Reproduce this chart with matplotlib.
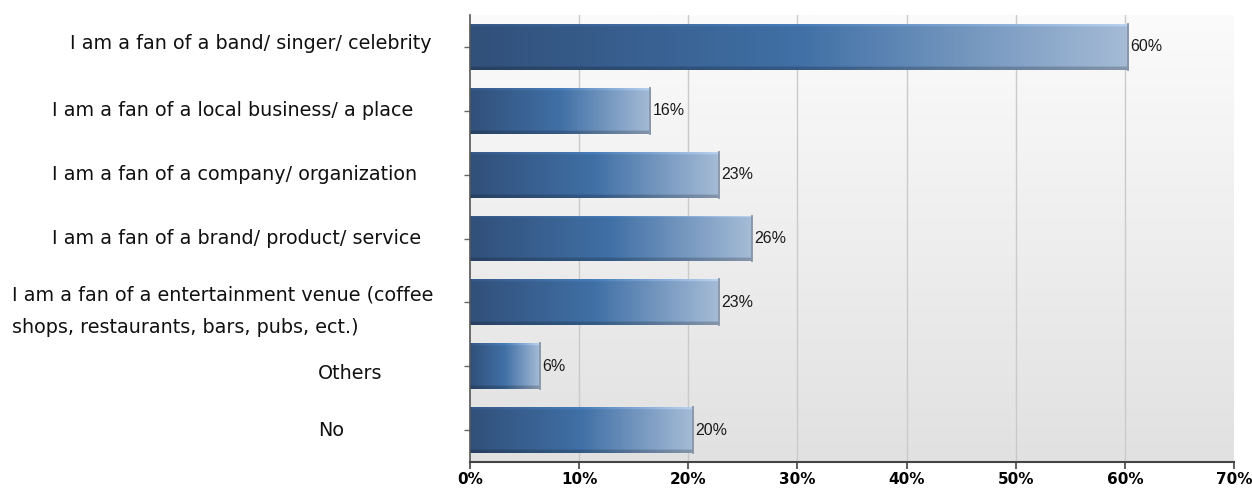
import numpy as np
import matplotlib.pyplot as plt
from matplotlib.colors import LinearSegmentedColormap
import matplotlib.transforms as mtransforms

# survey answers, top to bottom
answers = [
    "I am a fan of a band/ singer/ celebrity",
    "I am a fan of a local business/ a place",
    "I am a fan of a company/ organization",
    "I am a fan of a brand/ product/ service",
    "I am a fan of a entertainment venue (coffee\nshops, restaurants, bars, pubs, ect.)",
    "Others",
    "No",
]
shares = [60.3, 16.5, 22.8, 25.8, 22.8, 6.4, 20.4]
xticks = [0, 10, 20, 30, 40, 50, 60, 70]

# where each answer text starts (figure pixels) and a small vertical nudge
label_left = [70, 52, 52, 52, 12, 318, 318]
label_dy = [0.05, 0, 0, 0, -0.14, -0.12, 0]

W, H = 1252, 488
fig = plt.figure(figsize=(W / 100, H / 100), dpi=100)
ax = fig.add_axes([470 / W, 26 / H, 764 / W, 447 / H])

n = len(answers)
ypos = np.arange(n)[::-1]
bar_h = 0.72

ax.set_xlim(0, 70)
ax.set_ylim(-0.5, n - 0.5)

# grey backdrop fading towards the bottom
bg = LinearSegmentedColormap.from_list("bg", ["#e1e1e1", "#fbfbfb"])
ax.imshow(np.linspace(0, 1, 256).reshape(-1, 1), cmap=bg, aspect="auto",
          extent=(0, 1, 0, 1), transform=ax.transAxes, origin="lower", zorder=0)

for x in xticks[1:-1]:
    ax.axvline(x, color="#cacaca", lw=1, zorder=1)

# horizontal blue ramp, only a hint of vertical shading
stops = [(0.0, "#31507a"), (0.5, "#4070a6"), (1.0, "#a5bbd6")]
ramp = LinearSegmentedColormap.from_list("bar", stops)
hx = ramp(np.linspace(0, 1, 200))[:, :3]
vy = np.ones(40)
vy[:3] = 0.8
vy[-2:] = 1.12
img = np.clip(hx[None, :, :] * vy.reshape(-1, 1, 1), 0, 1)

for y, v in zip(ypos, shares):
    bars = ax.barh(y, v, height=bar_h, color="none", edgecolor="none", zorder=2)
    im = ax.imshow(img, aspect="auto", origin="lower", zorder=2,
                   extent=(0, v, y - bar_h / 2, y + bar_h / 2))
    im.set_clip_path(bars[0])
    ax.plot([v, v], [y - bar_h / 2, y + bar_h / 2], color="#8594a8", lw=1.3, zorder=3)
    ax.text(v + 0.2, y, f"{v:.0f}%", va="center", ha="left", fontsize=11.5,
            family="Liberation Sans", color="#1a1a1a", zorder=4)

ax.set_xticks(xticks)
ax.set_xticklabels([f"{x}%" for x in xticks], fontsize=11, fontweight="bold",
                   family=["Liberation Sans Narrow", "DejaVu Sans"])
ax.set_yticks(ypos)
ax.set_yticklabels([])
ax.tick_params(axis="y", length=4, color="#666666", width=1)
ax.tick_params(axis="x", length=5, color="#444444", width=1.2, pad=2)

for side in ["top", "right"]:
    ax.spines[side].set_visible(False)
ax.spines["left"].set_color("#555555")
ax.spines["left"].set_linewidth(1.2)
ax.spines["bottom"].set_color("#444444")
ax.spines["bottom"].set_linewidth(1.5)

trans = mtransforms.blended_transform_factory(fig.transFigure, ax.transData)
for y, text, px, dy in zip(ypos, answers, label_left, label_dy):
    ax.text(px / W, y + dy, text, transform=trans, ha="left", va="center",
            fontsize=13.8, linespacing=1.95, color="#111111", clip_on=False)

fig.savefig("out.png", dpi=100)
